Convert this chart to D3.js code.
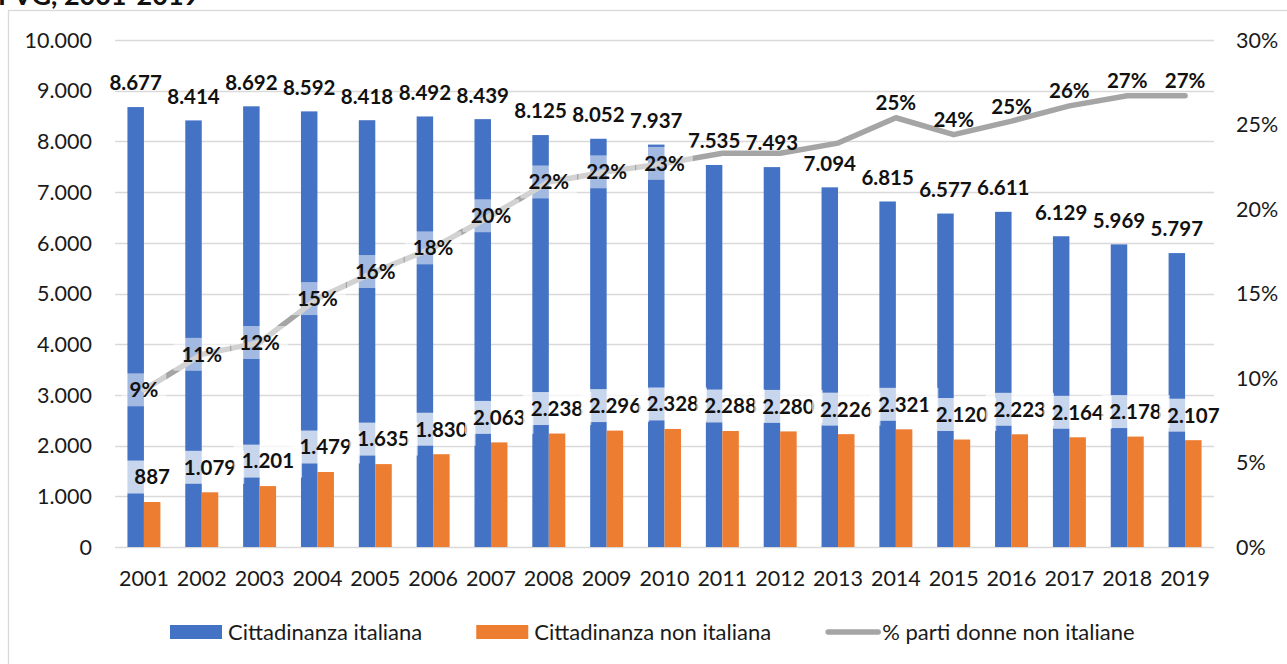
<!DOCTYPE html>
<html>
<head>
<meta charset="utf-8">
<script src="https://cdn.jsdelivr.net/npm/d3@7"></script>
<style>
  body { margin: 0; background: #fff; }
  svg { display: block; font-family: Lato, "Liberation Sans", sans-serif; }
  .tick-label { font-size: 21.5px; fill: #1a1a1a; }
  .data-label { font-size: 20.5px; font-weight: bold; fill: #111; }
  .legend-label { font-size: 22px; fill: #1a1a1a; }
</style>
</head>
<body>
<div id="chart"></div>
<script>
const svgWidth = 1287;
const svgHeight = 664;

// data
const years = ["2001", "2002", "2003", "2004", "2005", "2006", "2007", "2008", "2009", "2010",
  "2011", "2012", "2013", "2014", "2015", "2016", "2017", "2018", "2019"];
const italiana = [8677, 8414, 8692, 8592, 8418, 8492, 8439, 8125, 8052, 7937,
  7535, 7493, 7094, 6815, 6577, 6611, 6129, 5969, 5797];
const nonItaliana = [887, 1079, 1201, 1479, 1635, 1830, 2063, 2238, 2296, 2328,
  2288, 2280, 2226, 2321, 2120, 2223, 2164, 2178, 2107];
const quota = [9.3, 11.4, 12.1, 14.7, 16.3, 17.7, 19.6, 21.6, 22.2, 22.7,
  23.3, 23.3, 23.9, 25.4, 24.4, 25.2, 26.1, 26.7, 26.7];
const quotaLabels = ["9%", "11%", "12%", "15%", "16%", "18%", "20%", "22%", "22%", "23%",
  null, null, null, "25%", "24%", "25%", "26%", "27%", "27%"];
const leftTicks = [0, 1000, 2000, 3000, 4000, 5000, 6000, 7000, 8000, 9000, 10000];
const rightTicks = [0, 5, 10, 15, 20, 25, 30];
const seriesNames = ["Cittadinanza italiana", "Cittadinanza non italiana", "% parti donne non italiane"];

const colors = { ita: "#4472C4", stra: "#ED7D31", line: "#A5A5A5", grid: "#D9D9D9" };

const plot = { left: 115, right: 1214, top: 40, bottom: 547 };

const it = d3.formatLocale({ decimal: ",", thousands: ".", grouping: [3], currency: ["", "€"] });
const fmt = it.format(",d");

const svg = d3.select("#chart")
  .append("svg")
  .attr("width", svgWidth)
  .attr("height", svgHeight);

// outer frame + title (cut at the top, as in the source)
svg.append("rect")
  .attr("x", 8.5).attr("y", 10.5)
  .attr("width", svgWidth + 20).attr("height", svgHeight + 20)
  .attr("fill", "none").attr("stroke", colors.grid).attr("stroke-width", 1.3);

svg.append("text")
  .attr("x", -2).attr("y", 5)
  .style("font-size", "27px").style("font-weight", "bold").attr("fill", "#111")
  .text("FVG, 2001-2019");

// scales
const x0 = d3.scaleBand()
  .domain(years)
  .range([plot.left, plot.right])
  .paddingInner(0.43)
  .paddingOuter(0.215);

const x1 = d3.scaleBand()
  .domain(["ita", "stra"])
  .range([0, x0.bandwidth()]);

const yLeft = d3.scaleLinear().domain([0, 10000]).range([plot.bottom, plot.top]);
const yRight = d3.scaleLinear().domain([0, 30]).range([plot.bottom, plot.top]);

// gridlines
svg.append("g")
  .selectAll("line")
  .data(leftTicks)
  .enter()
  .append("line")
  .attr("x1", plot.left).attr("x2", plot.right)
  .attr("y1", d => Math.round(yLeft(d)) + 0.5)
  .attr("y2", d => Math.round(yLeft(d)) + 0.5)
  .attr("stroke", colors.grid)
  .attr("stroke-width", 1.3);

// left axis labels
svg.append("g")
  .selectAll("text")
  .data(leftTicks)
  .enter()
  .append("text")
  .classed("tick-label", true)
  .attr("x", 92)
  .attr("y", d => yLeft(d))
  .attr("dy", "0.36em")
  .attr("text-anchor", "end")
  .text(d => fmt(d));

// right axis labels
svg.append("g")
  .selectAll("text")
  .data(rightTicks)
  .enter()
  .append("text")
  .classed("tick-label", true)
  .attr("x", 1236)
  .attr("y", d => yRight(d))
  .attr("dy", "0.36em")
  .text(d => d + "%");

// x axis labels
svg.append("g")
  .selectAll("text")
  .data(years)
  .enter()
  .append("text")
  .classed("tick-label", true)
  .attr("x", d => x0(d) + x0.bandwidth() / 2)
  .attr("y", 578)
  .attr("dy", "0.36em")
  .attr("text-anchor", "middle")
  .text(d => d);

// bars
const rows = years.map((y, i) => ({ year: y, ita: italiana[i], stra: nonItaliana[i], q: quota[i], ql: quotaLabels[i] }));

svg.append("g")
  .selectAll("rect")
  .data(rows)
  .enter()
  .append("rect")
  .attr("x", d => x0(d.year) + x1("ita"))
  .attr("y", d => yLeft(d.ita))
  .attr("width", x1.bandwidth())
  .attr("height", d => plot.bottom - yLeft(d.ita))
  .attr("fill", colors.ita);

svg.append("g")
  .selectAll("rect")
  .data(rows)
  .enter()
  .append("rect")
  .attr("x", d => x0(d.year) + x1("stra"))
  .attr("y", d => yLeft(d.stra))
  .attr("width", x1.bandwidth())
  .attr("height", d => plot.bottom - yLeft(d.stra))
  .attr("fill", colors.stra);

// percentage line
const lineGen = d3.line()
  .x(d => x0(d.year) + x0.bandwidth() / 2)
  .y(d => yRight(d.q));

svg.append("path")
  .datum(rows)
  .attr("d", lineGen)
  .attr("fill", "none")
  .attr("stroke", colors.line)
  .attr("stroke-width", 5.5)
  .attr("stroke-linejoin", "round")
  .attr("stroke-linecap", "round");

// label helper: text with optional semi-transparent white box behind it
function addLabel(g, cx, cy, txt, boxOpacity) {
  const box = g.append("rect").attr("fill", "#fff").attr("fill-opacity", boxOpacity);
  const t = g.append("text")
    .classed("data-label", true)
    .attr("x", cx)
    .attr("y", cy)
    .attr("dy", "0.36em")
    .attr("text-anchor", "middle")
    .text(txt);
  const w = t.node().getComputedTextLength() + 16;
  box.attr("x", cx - w / 2).attr("y", cy - 16.5).attr("width", w).attr("height", 33);
  if (!boxOpacity) box.remove();
}

const labels = svg.append("g");

rows.forEach(d => {
  // italian totals, above blue bars
  addLabel(labels, x0(d.year) + x1("ita") + x1.bandwidth() / 2, yLeft(d.ita) - 24, fmt(d.ita), 0);
  // non-italian, above orange bars, boxed
  addLabel(labels, x0(d.year) + x1("stra") + x1.bandwidth() / 2, yLeft(d.stra) - 25, fmt(d.stra), 0.7);
});

rows.forEach((d, i) => {
  if (!d.ql) return;
  const cx = x0(d.year) + x0.bandwidth() / 2;
  // first years are centred on the line, later ones sit above it
  if (i < 10) addLabel(labels, cx, yRight(d.q), d.ql, 0.5);
  else addLabel(labels, cx, yRight(d.q) - 15, d.ql, 0);
});

// legend
const legend = svg.append("g").attr("transform", "translate(170, 632)");
let lx = 0;
seriesNames.forEach((name, i) => {
  if (i < 2) {
    legend.append("rect")
      .attr("x", lx).attr("y", -7)
      .attr("width", 52).attr("height", 14)
      .attr("fill", i === 0 ? colors.ita : colors.stra);
  } else {
    legend.append("line")
      .attr("x1", lx + 3).attr("x2", lx + 53)
      .attr("y1", 0).attr("y2", 0)
      .attr("stroke", colors.line)
      .attr("stroke-width", 5.5)
      .attr("stroke-linecap", "round");
  }
  const t = legend.append("text")
    .classed("legend-label", true)
    .attr("x", lx + (i < 2 ? 58 : 57))
    .attr("y", 0)
    .attr("dy", "0.36em")
    .text(name);
  lx += (i < 2 ? 58 : 57) + t.node().getComputedTextLength() + 54;
});
</script>
</body>
</html>
